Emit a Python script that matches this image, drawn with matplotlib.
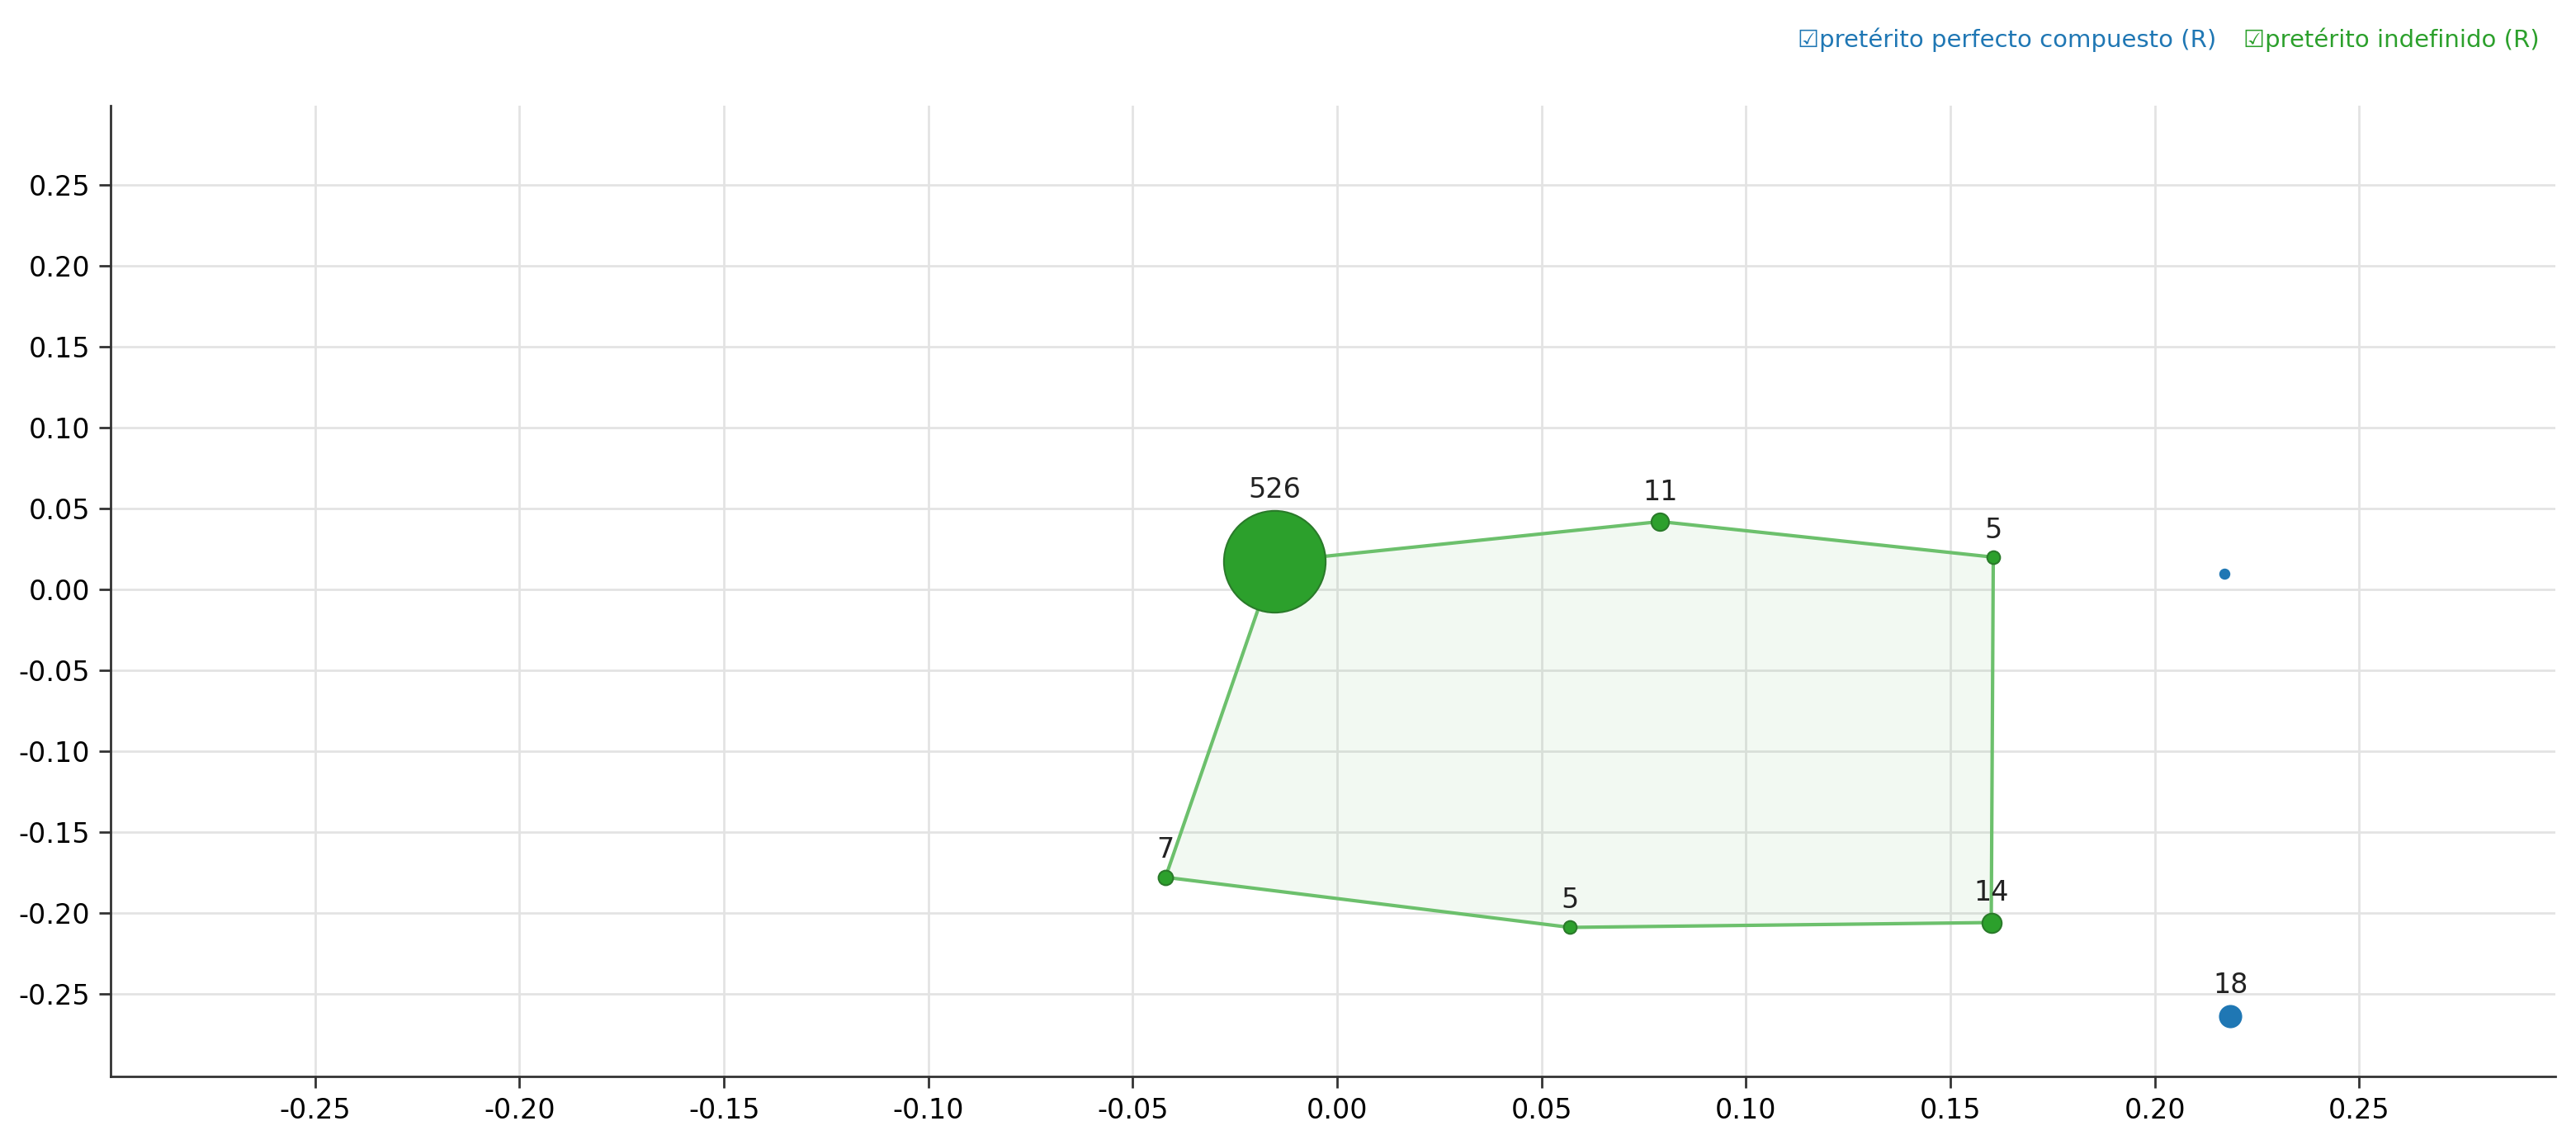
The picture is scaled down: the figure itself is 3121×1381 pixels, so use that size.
import numpy as np
import matplotlib.pyplot as plt

# Data
green_x = [-0.0153, 0.079, 0.1605, 0.160, 0.057, -0.042]
green_y = [0.0173, 0.042, 0.020, -0.206, -0.209, -0.178]
green_n = [526, 11, 5, 14, 5, 7]
blue_x = [0.217, 0.2185]
blue_y = [0.010, -0.264]
blue_n = [2, 18]
ticks = [-0.25, -0.20, -0.15, -0.10, -0.05, 0.00, 0.05, 0.10, 0.15, 0.20, 0.25]

GREEN = "#2ca02c"
BLUE = "#1f77b4"


def radius_px(n):
    return 2.0 + 2.6 * np.sqrt(n)


fig = plt.figure(figsize=(31.21, 13.81), dpi=100)
ax = fig.add_axes([0.043, 0.056, 0.949, 0.851])
ax.set_xlim(-0.3, 0.298)
ax.set_ylim(-0.301, 0.299)

# Hull
ax.fill(green_x, green_y, facecolor=GREEN, alpha=0.06, edgecolor="none", zorder=1)
ax.plot(green_x + green_x[:1], green_y + green_y[:1], color="#6cc06c", lw=3, zorder=2)

for xs, ys, ns, col in [(green_x, green_y, green_n, GREEN), (blue_x, blue_y, blue_n, BLUE)]:
    for x, y, n in zip(xs, ys, ns):
        r = radius_px(n)
        ax.plot(x, y, "o", ms=2 * r * 0.72, color=col,
                mec="#2a7a2a" if col == GREEN else col, mew=1.5, zorder=3)
        if n >= 5:
            ax.annotate(str(n), (x, y), xytext=(0, r * 0.72 + 6), textcoords="offset points",
                        ha="center", va="bottom", fontsize=24, color="#222222")

ax.set_xticks(ticks)
ax.set_yticks(ticks)
ax.set_xticklabels([f"{t:.2f}" for t in ticks])
ax.set_yticklabels([f"{t:.2f}" for t in ticks])
ax.tick_params(labelsize=24, length=10, width=2, color="#333333", pad=8)
ax.grid(color="#e3e3e3", lw=2)
ax.set_axisbelow(True)
for s in ["top", "right"]:
    ax.spines[s].set_visible(False)
for s in ["left", "bottom"]:
    ax.spines[s].set_linewidth(2)
    ax.spines[s].set_color("#333333")

# Legend texts
fig.text(0.698, 0.965, "\u2611pretérito perfecto compuesto (R)", color=BLUE, fontsize=21,
         ha="left", va="center")
fig.text(0.871, 0.965, "\u2611pretérito indefinido (R)", color=GREEN, fontsize=21,
         ha="left", va="center")

fig.savefig("out.png", dpi=100)
